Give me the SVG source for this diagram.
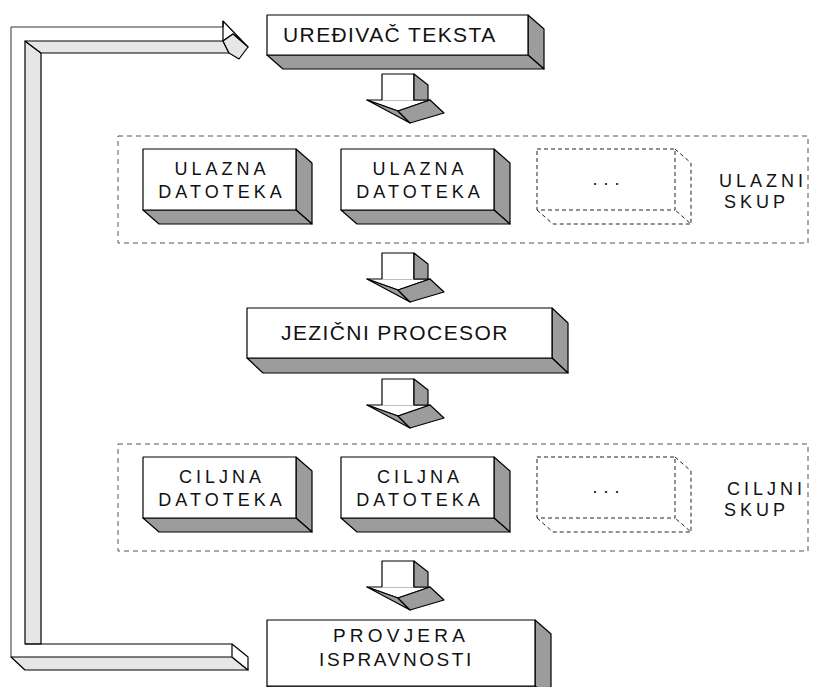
<svg xmlns="http://www.w3.org/2000/svg" xmlns:xlink="http://www.w3.org/1999/xlink" width="816" height="687" viewBox="0 0 816 687">
  <style>
    .face { fill: #ffffff; stroke: #000; stroke-width: 1.2; stroke-linejoin: round; }
    .side { fill: #9c9c9c; stroke: #000; stroke-width: 1.2; stroke-linejoin: round; }
    .bar  { fill: #e6e6e6; stroke: #000; stroke-width: 1.2; stroke-linejoin: round; }
    .line { fill: none; stroke: #000; stroke-width: 1.2; stroke-linejoin: round; }
    .thin { fill: none; stroke: #333; stroke-width: 1; }
    .dash { fill: none; stroke: #555; stroke-width: 1; stroke-dasharray: 5 4; }
    .ghost { fill: none; stroke: #222; stroke-width: 1; stroke-dasharray: 4 3; }
    .nofill { fill: #fff; stroke: none; }
    text { font-family: "Liberation Sans", Arial, sans-serif; fill: #111; }
    .big { font-size: 21px; letter-spacing: 1.4px; }
    .mid { font-size: 18px; letter-spacing: 4px; text-anchor: middle; }
    .lbl { font-size: 18px; letter-spacing: 4px; }
  </style>
  <defs>
    <!-- 3D block arrow pointing down; top of shaft at y=0 -->
    <g id="downArrow">
      <polygon class="face" points="367,26 430,26 398,37"/>
      <polygon class="side" points="367,26 398,37 410,49"/>
      <polygon class="side" points="398,37 430,26 444,39 410,49"/>
      <rect class="nofill" x="382" y="0" width="32" height="26.5"/>
      <path class="line" d="M382,26 V0 H414 V26"/>
      <polygon class="side" points="414,0 428,11 428,26 414,26"/>
    </g>
  </defs>

  <!-- feedback bar from the check back to the editor -->
  <g id="feedback">
    <path class="thin" d="M223,27 H11 V657 L25,670"/>
    <polygon class="bar" points="25,41 41,53 41,644 25,644"/>
    <polygon class="bar" points="25,41 223,41 229,53 41,53"/>
    <polygon class="face" points="223,21 248,47 233,34 223,41"/>
    <polygon class="bar" points="223,41 233,34 248,47 239,59 229,53"/>
    <line class="line" x1="223" y1="21" x2="223" y2="27"/>
    <line class="line" x1="25" y1="644" x2="232" y2="644"/>
    <polygon class="bar" points="11,657 232,657 248,670 25,670"/>
    <polygon class="face" points="232,644 248,657 248,670 232,657"/>
  </g>

  <!-- flow arrows -->
  <g id="connectors">
    <use xlink:href="#downArrow" href="#downArrow" transform="translate(0,74)"/>
    <use xlink:href="#downArrow" href="#downArrow" transform="translate(0,253)"/>
    <use xlink:href="#downArrow" href="#downArrow" transform="translate(0,379)"/>
    <use xlink:href="#downArrow" href="#downArrow" transform="translate(0,561)"/>
  </g>

  <g id="editor">
    <polygon class="side" points="528,15 544,29 544,69 528,55"/>
    <polygon class="side" points="267,55 528,55 544,69 283,69"/>
    <rect class="face" x="267" y="15" width="261" height="40"/>
    <text class="big" x="283" y="42">UREĐIVAČ TEKSTA</text>
  </g>

  <g id="input-set">
    <rect class="dash" x="118" y="136" width="690" height="107"/>
    <g id="input-file-1">
      <polygon class="side" points="296,149 312,163 312,224 296,210"/>
      <polygon class="side" points="143,210 296,210 312,224 159,224"/>
      <rect class="face" x="143" y="149" width="153" height="61"/>
      <text class="mid" x="222" y="175">ULAZNA</text>
      <text class="mid" x="222" y="198">DATOTEKA</text>
    </g>
    <g id="input-file-2">
      <polygon class="side" points="494,149 510,163 510,224 494,210"/>
      <polygon class="side" points="341,210 494,210 510,224 357,224"/>
      <rect class="face" x="341" y="149" width="153" height="61"/>
      <text class="mid" x="420" y="175">ULAZNA</text>
      <text class="mid" x="420" y="198">DATOTEKA</text>
    </g>
    <g id="input-file-more">
      <rect class="ghost" x="537" y="149" width="138" height="61"/>
      <path class="ghost" d="M675,149 L691,163 V224 L675,210 M537,210 L553,224 H691"/>
      <text class="mid" x="609" y="185" style="letter-spacing:6px">...</text>
    </g>
    <text class="lbl" x="719" y="187">ULAZNI</text>
    <text class="lbl" x="724" y="208">SKUP</text>
  </g>

  <g id="processor">
    <polygon class="side" points="552,308 568,323 568,373 552,358"/>
    <polygon class="side" points="247,358 552,358 568,373 263,373"/>
    <rect class="face" x="247" y="308" width="305" height="50"/>
    <text class="big" x="281" y="340">JEZIČNI PROCESOR</text>
  </g>

  <g id="output-set">
    <rect class="dash" x="118" y="444" width="690" height="107"/>
    <g id="output-file-1">
      <polygon class="side" points="296,457 312,471 312,532 296,518"/>
      <polygon class="side" points="143,518 296,518 312,532 159,532"/>
      <rect class="face" x="143" y="457" width="153" height="61"/>
      <text class="mid" x="222" y="483">CILJNA</text>
      <text class="mid" x="222" y="506">DATOTEKA</text>
    </g>
    <g id="output-file-2">
      <polygon class="side" points="494,457 510,471 510,532 494,518"/>
      <polygon class="side" points="341,518 494,518 510,532 357,532"/>
      <rect class="face" x="341" y="457" width="153" height="61"/>
      <text class="mid" x="420" y="483">CILJNA</text>
      <text class="mid" x="420" y="506">DATOTEKA</text>
    </g>
    <g id="output-file-more">
      <rect class="ghost" x="537" y="457" width="138" height="61"/>
      <path class="ghost" d="M675,457 L691,471 V532 L675,518 M537,518 L553,532 H691"/>
      <text class="mid" x="609" y="493" style="letter-spacing:6px">...</text>
    </g>
    <text class="lbl" x="727" y="495">CILJNI</text>
    <text class="lbl" x="724" y="516">SKUP</text>
  </g>

  <g id="check">
    <polygon class="side" points="535,620 551,634 551,700 535,686"/>
    <polygon class="side" points="267,686 535,686 551,700 283,700"/>
    <rect class="face" x="267" y="620" width="268" height="66"/>
    <text x="333" y="642" style="font-size:19px;letter-spacing:4.2px">PROVJERA</text>
    <text x="319" y="666" style="font-size:19px;letter-spacing:2.6px">ISPRAVNOSTI</text>
  </g>
</svg>
